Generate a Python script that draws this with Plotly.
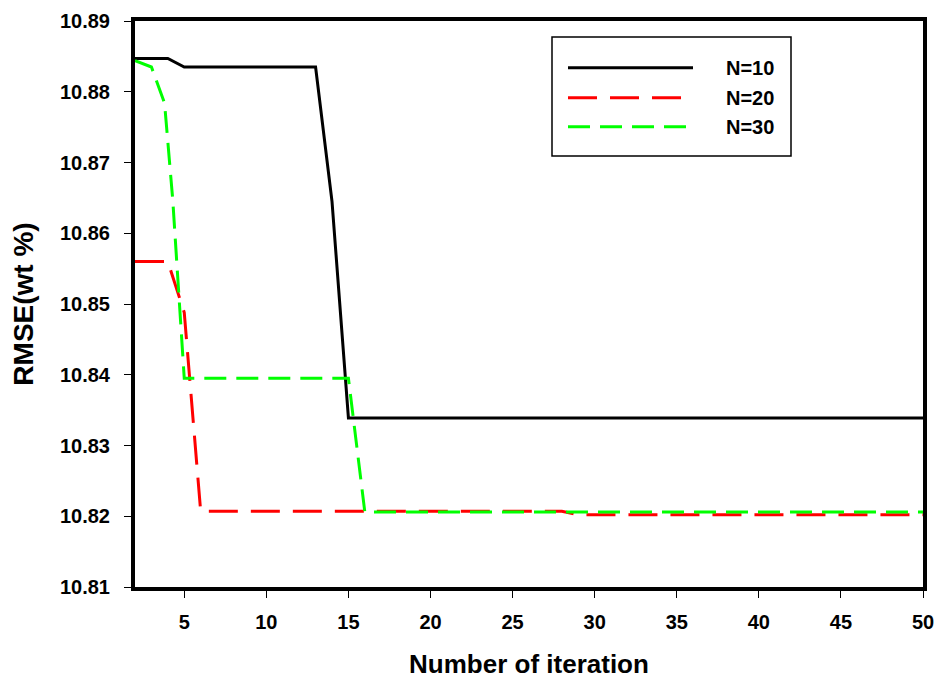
import plotly.graph_objects as go

# ---- data ----
x_n10 = [2, 4, 5, 13, 14, 15, 50]
y_n10 = [10.8847, 10.8847, 10.8835, 10.8835, 10.8645, 10.8339, 10.8339]

x_n20 = [2, 4, 5, 6, 28, 29, 50]
y_n20 = [10.8560, 10.8560, 10.8488, 10.8207, 10.8207, 10.8202, 10.8202]

x_n30 = [2, 3, 3.8, 4.3, 5, 15, 16, 50]
y_n30 = [10.8844, 10.8835, 10.8784, 10.8647, 10.8395, 10.8395, 10.8206, 10.8206]

series_names = ["N=10", "N=20", "N=30"]
x_ticks = [5, 10, 15, 20, 25, 30, 35, 40, 45, 50]
y_ticks = [10.81, 10.82, 10.83, 10.84, 10.85, 10.86, 10.87, 10.88, 10.89]

FONT = "Liberation Sans, Arial, sans-serif"
colors = ["#000000", "#FF0000", "#00FF00"]
dashes = ["solid", "29px,13px", "22px,10px"]

fig = go.Figure()
for xs, ys, name, c, d in zip([x_n10, x_n20, x_n30], [y_n10, y_n20, y_n30],
                              series_names, colors, dashes):
    fig.add_trace(go.Scatter(x=xs, y=ys, mode="lines", name=name,
                             line=dict(color=c, width=3, dash=d),
                             showlegend=False))

W, H = 938, 680
L, R, T, B = 135, 15, 21, 93
pw = W - L - R
ph = H - T - B

def px_x(p):
    return (p - L) / pw

def px_y(p):
    return (H - B - p) / ph

shapes = []
annotations = []
# legend box
shapes.append(dict(type="rect", xref="paper", yref="paper",
                   x0=px_x(552), x1=px_x(791), y0=px_y(156), y1=px_y(37),
                   line=dict(color="black", width=1.5), fillcolor="white", layer="above"))
rows = [67.7, 97.7, 126.7]
for name, c, d, ry in zip(series_names, colors, dashes, rows):
    shapes.append(dict(type="line", xref="paper", yref="paper",
                       x0=px_x(568), x1=px_x(693), y0=px_y(ry), y1=px_y(ry),
                       line=dict(color=c, width=3, dash=d), layer="above"))
    annotations.append(dict(xref="paper", yref="paper", x=px_x(724), y=px_y(ry),
                            xanchor="left", yanchor="middle", showarrow=False,
                            text=name, font=dict(family=FONT, size=20, color="black", weight="bold")))

fig.update_layout(
    width=W, height=H,
    margin=dict(l=L, r=R, t=T, b=B, autoexpand=False),
    paper_bgcolor="white", plot_bgcolor="white",
    shapes=shapes, annotations=annotations,
    font=dict(family=FONT, color="black"),
)
fig.update_xaxes(
    automargin=False,
    range=[2, 50], tickmode="array", tickvals=x_ticks, ticktext=[str(v) for v in x_ticks],
    showgrid=False, zeroline=False,
    showline=True, linewidth=4, linecolor="black", mirror=True,
    ticks="outside", ticklen=7, tickwidth=1, tickcolor="black",
    tickfont=dict(family=FONT, size=20, color="black", weight="bold"),
    ticklabelstandoff=7,
    title=dict(text="Number of iteration", standoff=24,
               font=dict(family=FONT, size=26, color="black", weight="bold")),
)
fig.update_yaxes(
    automargin=False,
    range=[10.81, 10.89], tickmode="array", tickvals=y_ticks,
    ticktext=[f"{v:.2f}" for v in y_ticks],
    showgrid=False, zeroline=False,
    showline=True, linewidth=4, linecolor="black", mirror=True,
    ticks="outside", ticklen=7, tickwidth=1, tickcolor="black",
    tickfont=dict(family=FONT, size=20, color="black", weight="bold"),
    ticklabelstandoff=10,
    title=dict(text="RMSE(wt %)", standoff=19,
               font=dict(family=FONT, size=28, color="black", weight="bold")),
)

fig.write_html("out.html")
